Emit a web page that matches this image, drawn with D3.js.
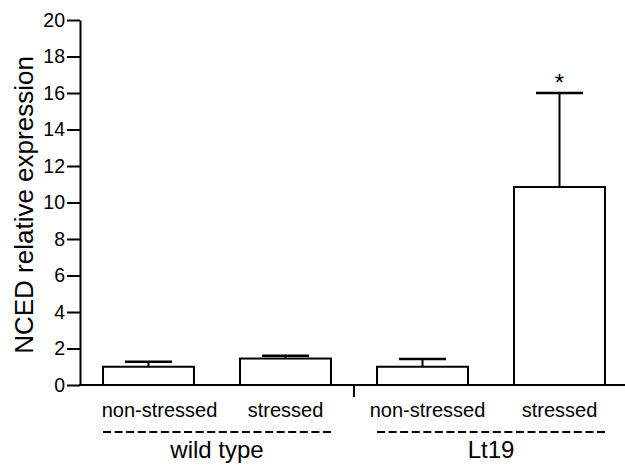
<!DOCTYPE html>
<html>
<head>
<meta charset="utf-8">
<script src="https://cdn.jsdelivr.net/npm/d3@7"></script>
<style>
  body { margin: 0; background: #fff; }
  text { font-family: "Liberation Sans", Arial, sans-serif; fill: #000; }
</style>
</head>
<body>
<div id="chart-area"></div>
<script>
// data
let categories = ["wt-ns", "wt-s", "lt-ns", "lt-s"];
let catLabels = ["non-stressed", "stressed", "non-stressed", "stressed"];
let means = [1.0, 1.45, 1.0, 10.85];
let errors = [0.27, 0.15, 0.43, 5.15];
let stars = ["", "", "", "*"];
let groups = ["wild type", "Lt19"];
let groupMembers = [["wt-ns", "wt-s"], ["lt-ns", "lt-s"]];
let yTicks = [0, 2, 4, 6, 8, 10, 12, 14, 16, 18, 20];

let W = 625, H = 465;
let margin = { left: 80, top: 20, bottom: 385 };

let svg = d3.select("#chart-area")
	.append("svg")
	.attr("width", W)
	.attr("height", H);

// Scales
let x = d3.scaleBand()
	.domain(categories)
	.range([margin.left, 628])
	.paddingInner(0.336)
	.paddingOuter(0.168);

let y = d3.scaleLinear()
	.domain([0, 20])
	.range([margin.bottom, margin.top]);

// Bars
svg.selectAll("rect.bar")
	.data(categories)
	.enter()
	.append("rect")
	.attr("class", "bar")
	.attr("x", (d) => x(d))
	.attr("width", x.bandwidth())
	.attr("y", (d, i) => y(means[i]))
	.attr("height", (d, i) => y(0) - y(means[i]))
	.attr("fill", "#fff")
	.attr("stroke", "#000")
	.attr("stroke-width", 2);

// Error bars (upper only)
let capW = 47;
categories.forEach((c, i) => {
	let cx = x(c) + x.bandwidth() / 2;
	svg.append("line")
		.attr("x1", cx).attr("x2", cx)
		.attr("y1", y(means[i])).attr("y2", y(means[i] + errors[i]))
		.attr("stroke", "#000").attr("stroke-width", 2);
	svg.append("line")
		.attr("x1", cx - capW / 2).attr("x2", cx + capW / 2)
		.attr("y1", y(means[i] + errors[i])).attr("y2", y(means[i] + errors[i]))
		.attr("stroke", "#000").attr("stroke-width", 2.5);
	if (stars[i]) {
		svg.append("text")
			.attr("x", cx)
			.attr("y", y(means[i] + errors[i]) - 2)
			.attr("text-anchor", "middle")
			.style("font-size", "24px")
			.text(stars[i]);
	}
});

// Y axis
let yAxisCall = d3.axisLeft(y)
	.tickValues(yTicks)
	.tickSize(13)
	.tickSizeOuter(0)
	.tickPadding(2)
	.tickFormat((d) => d);
let yAxis = svg.append("g")
	.attr("transform", "translate(" + margin.left + ",0)")
	.call(yAxisCall);
yAxis.attr("font-size", null).attr("font-family", null);
yAxis.selectAll("line, path").attr("stroke-width", 2);
yAxis.selectAll("text")
	.style("font-size", "19.5px")
	.style("font-family", "'Liberation Sans', Arial, sans-serif");

// X axis line + group separator tick
svg.append("line")
	.attr("x1", margin.left - 1).attr("x2", W)
	.attr("y1", margin.bottom).attr("y2", margin.bottom)
	.attr("stroke", "#000").attr("stroke-width", 2);
let sepX = (x("wt-s") + x.bandwidth() + x("lt-ns")) / 2;
svg.append("line")
	.attr("x1", sepX).attr("x2", sepX)
	.attr("y1", margin.bottom).attr("y2", margin.bottom + 12)
	.attr("stroke", "#000").attr("stroke-width", 2);

// Category labels (the non-stressed ones sit a bit right of the bar centre)
let labelShift = [11, 0, 5, 0];
svg.selectAll("text.cat")
	.data(categories)
	.enter()
	.append("text")
	.attr("class", "cat")
	.attr("x", (d, i) => x(d) + x.bandwidth() / 2 + labelShift[i])
	.attr("y", 417)
	.attr("text-anchor", "middle")
	.style("font-size", "20px")
	.text((d, i) => catLabels[i]);

// Group dashes and labels
groups.forEach((gName, i) => {
	let a = x(groupMembers[i][0]);
	let b = x(groupMembers[i][1]) + x.bandwidth();
	let len = b - a;
	let gap = (len - 20 * 8) / 19;
	svg.append("line")
		.attr("x1", a).attr("x2", b)
		.attr("y1", 432).attr("y2", 432)
		.attr("stroke", "#000").attr("stroke-width", 2)
		.attr("stroke-dasharray", "8," + gap);
	svg.append("text")
		.attr("x", (a + b) / 2)
		.attr("y", 458)
		.attr("text-anchor", "middle")
		.style("font-size", "24px")
		.text(gName);
});

// Y label
svg.append("text")
	.attr("transform", "rotate(-90)")
	.attr("x", -205)
	.attr("y", 33)
	.attr("text-anchor", "middle")
	.style("font-size", "26px")
	.text("NCED relative expression");
</script>
</body>
</html>
